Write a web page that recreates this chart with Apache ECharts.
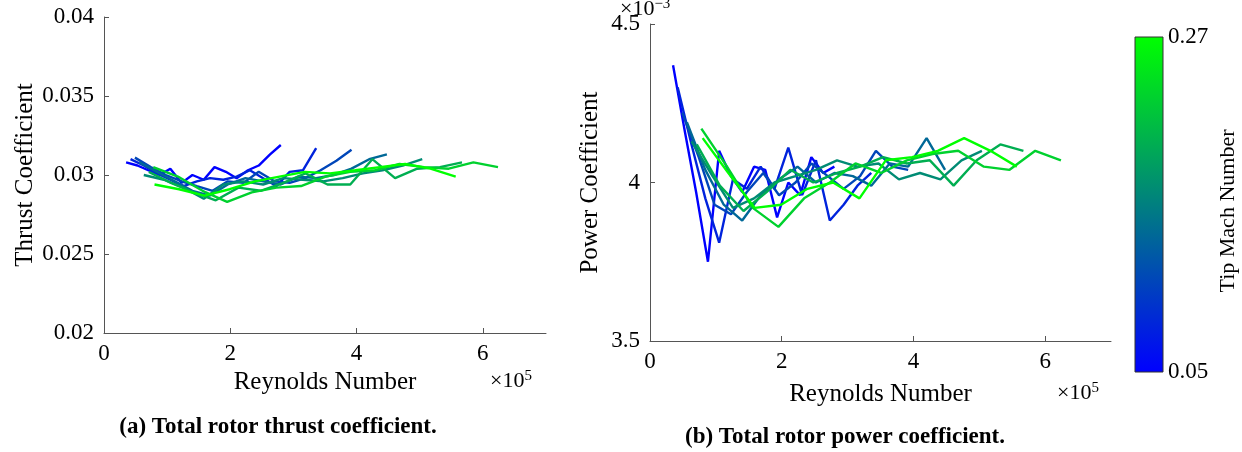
<!DOCTYPE html>
<html>
<head>
<meta charset="utf-8">
<script src="https://cdn.jsdelivr.net/npm/echarts@6/dist/echarts.min.js"></script>
<style>
  html, body { margin: 0; padding: 0; background: #fff; }
  #main { width: 1242px; height: 452px; }
</style>
</head>
<body>
<div id="main"></div>
<script>
// tip Mach number of each run (colour scale 0.05 .. 0.27)
const mach = [0.05, 0.08, 0.11, 0.14, 0.17, 0.20, 0.23, 0.27];

// Reynolds number (x 10^5) of each test point, one array per run
const re1 = [0.35, 0.53, 0.70, 0.88, 1.05, 1.23, 1.40, 1.58, 1.75, 1.93, 2.10, 2.28, 2.45, 2.63, 2.80];
const re2 = [0.42, 0.63, 0.84, 1.05, 1.26, 1.47, 1.68, 1.89, 2.10, 2.31, 2.52, 2.73, 2.94, 3.15, 3.36];
const re3 = [0.49, 0.74, 0.98, 1.23, 1.47, 1.72, 1.96, 2.21, 2.45, 2.70, 2.94, 3.19, 3.43, 3.68, 3.92];
const re4 = [0.56, 0.84, 1.12, 1.40, 1.68, 1.96, 2.24, 2.52, 2.80, 3.08, 3.36, 3.64, 3.92, 4.20, 4.48];
const re5 = [0.63, 0.95, 1.26, 1.58, 1.89, 2.21, 2.52, 2.84, 3.15, 3.47, 3.78, 4.10, 4.41, 4.73, 5.04];
const re6 = [0.71, 1.06, 1.42, 1.77, 2.13, 2.48, 2.84, 3.19, 3.54, 3.90, 4.25, 4.61, 4.96, 5.32, 5.67];
const re7 = [0.78, 1.17, 1.56, 1.95, 2.34, 2.73, 3.12, 3.51, 3.90, 4.29, 4.68, 5.07, 5.46, 5.85, 6.24];
const re8 = [0.80, 1.19, 1.59, 1.99, 2.39, 2.78, 3.18, 3.58, 3.98, 4.37, 4.77, 5.17, 5.57];

// thrust coefficient
const ct1 = [0.0308, 0.0306, 0.0303, 0.0300, 0.0304, 0.0295, 0.0300, 0.0297, 0.0305, 0.0302, 0.0298, 0.0303, 0.0306, 0.0313, 0.0319];
const ct2 = [0.0310, 0.0306, 0.0301, 0.0297, 0.0293, 0.0296, 0.0298, 0.0297, 0.0299, 0.0303, 0.0298, 0.0293, 0.0302, 0.0303, 0.0317];
const ct3 = [0.0311, 0.0305, 0.0300, 0.0296, 0.0293, 0.0290, 0.0296, 0.0295, 0.0302, 0.0296, 0.0295, 0.0298, 0.0303, 0.0309, 0.0316];
const ct4 = [0.0308, 0.0302, 0.0296, 0.0290, 0.0287, 0.0294, 0.0298, 0.0296, 0.0294, 0.0299, 0.0298, 0.0300, 0.0304, 0.0310, 0.0313];
const ct5 = [0.0300, 0.0297, 0.0292, 0.0285, 0.0294, 0.0296, 0.0294, 0.0298, 0.0297, 0.0296, 0.0298, 0.0301, 0.0303, 0.0306, 0.0310];
const ct6 = [0.0302, 0.0295, 0.0289, 0.0284, 0.0292, 0.0290, 0.0295, 0.0301, 0.0294, 0.0294, 0.0310, 0.0298, 0.0304, 0.0305, 0.0308];
const ct7 = [0.0305, 0.0299, 0.0290, 0.0283, 0.0289, 0.0292, 0.0293, 0.0299, 0.0302, 0.0303, 0.0307, 0.0305, 0.0304, 0.0308, 0.0305];
const ct8 = [0.0294, 0.0291, 0.0287, 0.0291, 0.0296, 0.0299, 0.0302, 0.0301, 0.0303, 0.0305, 0.0307, 0.0304, 0.0299];

// power coefficient (x 10^-3)
const cp1 = [4.37, 4.16, 3.97, 3.75, 4.10, 4.02, 3.97, 4.05, 4.04, 3.89, 4.00, 3.96, 4.08, 4.03, 4.05];
const cp2 = [4.30, 4.12, 3.95, 3.81, 4.01, 3.98, 4.05, 3.98, 4.11, 3.96, 4.07, 3.88, 3.93, 3.99, 4.03];
const cp3 = [4.22, 4.08, 3.93, 3.90, 3.97, 4.03, 3.96, 4.00, 4.06, 4.02, 3.98, 4.02, 4.10, 4.05, 4.04];
const cp4 = [4.19, 4.04, 3.93, 3.88, 3.96, 4.01, 4.05, 4.00, 4.03, 4.02, 3.99, 4.06, 4.05, 4.14, 4.04];
const cp5 = [4.13, 4.02, 3.92, 3.95, 4.00, 4.02, 4.04, 4.07, 4.05, 4.06, 4.01, 4.03, 4.01, 4.07, 4.10];
const cp6 = [4.12, 3.99, 3.91, 3.97, 4.04, 4.00, 4.03, 4.05, 4.08, 4.06, 4.07, 3.99, 4.07, 4.12, 4.10];
const cp7 = [4.17, 4.05, 3.92, 3.86, 3.95, 4.00, 4.06, 4.03, 4.07, 4.09, 4.10, 4.05, 4.04, 4.10, 4.07];
const cp8 = [4.14, 4.03, 3.92, 3.93, 3.98, 4.00, 3.95, 4.07, 4.08, 4.10, 4.14, 4.10, 4.05];

const reRuns = [re1, re2, re3, re4, re5, re6, re7, re8];
const ctRuns = [ct1, ct2, ct3, ct4, ct5, ct6, ct7, ct8];
const cpRuns = [cp1, cp2, cp3, cp4, cp5, cp6, cp7, cp8];

const xTicks = [0, 2, 4, 6];
const machMin = 0.05, machMax = 0.27;
const cmap = ['#0000ff', '#00ff00'];

const serif = 'Liberation Serif';
const txt = '#000';
const axisGray = '#555';

function machColor(m) {
  return echarts.color.lerp((m - machMin) / (machMax - machMin), cmap);
}

function pairs(xs, ys) {
  return xs.map(function (x, i) { return [x, ys[i]]; });
}

var dom = document.getElementById('main');
var myChart = echarts.init(dom, null, { renderer: 'canvas' });

var series = [];
for (let i = 0; i < mach.length; ++i) {
  let c = machColor(mach[i]);
  series.push({
    type: 'line', xAxisIndex: 0, yAxisIndex: 0,
    data: pairs(reRuns[i], ctRuns[i]),
    showSymbol: false, silent: true,
    lineStyle: { color: c, width: 2.4 }
  });
  series.push({
    type: 'line', xAxisIndex: 1, yAxisIndex: 1,
    data: pairs(reRuns[i], cpRuns[i]),
    showSymbol: false, silent: true,
    lineStyle: { color: c, width: 2.4 }
  });
}

function xAxisOpt(grid, gap) {
  return {
    type: 'value', gridIndex: grid, min: 0, max: 7, interval: 2,
    name: 'Reynolds Number', nameLocation: 'middle', nameGap: gap,
    nameTextStyle: { fontFamily: serif, fontSize: 25, color: txt },
    axisLine: { lineStyle: { color: axisGray, width: 1 } },
    axisTick: { inside: true, length: 5, lineStyle: { color: axisGray } },
    axisLabel: {
      fontFamily: serif, fontSize: 23, color: txt, margin: 9,
      showMaxLabel: false,
      formatter: function (v) { return xTicks.indexOf(v) >= 0 ? String(v) : ''; }
    },
    splitLine: { show: false }
  };
}

function yAxisOpt(grid, min, max, interval, name, gap) {
  return {
    type: 'value', gridIndex: grid, min: min, max: max, interval: interval,
    name: name, nameLocation: 'middle', nameGap: gap,
    nameTextStyle: { fontFamily: serif, fontSize: 25, color: txt },
    axisLine: { show: true, lineStyle: { color: axisGray, width: 1 } },
    axisTick: { show: true, inside: true, length: 5, lineStyle: { color: axisGray } },
    axisLabel: { fontFamily: serif, fontSize: 23, color: txt, margin: 10 },
    splitLine: { show: false }
  };
}

var option = {
  backgroundColor: '#fff',
  animation: false,
  grid: [
    { left: 104, top: 17, width: 442, height: 316 },
    { left: 650, top: 24, width: 461, height: 317 }
  ],
  xAxis: [xAxisOpt(0, 37), xAxisOpt(1, 41)],
  yAxis: [
    yAxisOpt(0, 0.02, 0.04, 0.005, 'Thrust Coefficient', 62),
    yAxisOpt(1, 3.5, 4.5, 0.5, 'Power Coefficient', 47)
  ],
  series: series,
  graphic: [
    // colour bar
    {
      type: 'rect', silent: true,
      shape: { x: 1135, y: 37, width: 28, height: 335 },
      style: {
        fill: new echarts.graphic.LinearGradient(0, 1, 0, 0, [
          { offset: 0, color: cmap[0] },
          { offset: 1, color: cmap[1] }
        ]),
        stroke: '#333', lineWidth: 1
      }
    },
    {
      type: 'text', left: 1168, top: 25,
      style: { text: String(machMax), font: '23px "Liberation Serif"', fill: txt }
    },
    {
      type: 'text', left: 1168, top: 360,
      style: { text: String(machMin), font: '23px "Liberation Serif"', fill: txt }
    },
    {
      type: 'text', x: 1228, y: 211, rotation: Math.PI / 2,
      style: {
        text: 'Tip Mach Number', font: '22px "Liberation Serif"', fill: txt,
        align: 'center', verticalAlign: 'middle'
      }
    },
    // exponent labels
    {
      type: 'text', left: 490, top: 369,
      style: {
        text: '×10{s|5}', font: '22px "Liberation Serif"', fill: txt,
        rich: { s: { fontSize: 15, verticalAlign: 'top', padding: [0, 0, 10, 0], fontFamily: serif } }
      }
    },
    {
      type: 'text', left: 1057, top: 381,
      style: {
        text: '×10{s|5}', font: '22px "Liberation Serif"', fill: txt,
        rich: { s: { fontSize: 15, verticalAlign: 'top', padding: [0, 0, 10, 0], fontFamily: serif } }
      }
    },
    {
      type: 'text', left: 620, top: -3,
      style: {
        text: '×10{s|−3}', font: '22px "Liberation Serif"', fill: txt,
        rich: { s: { fontSize: 15, verticalAlign: 'top', padding: [0, 0, 10, 0], fontFamily: serif } }
      }
    },
    // captions
    {
      type: 'text', x: 278, y: 427,
      style: {
        text: '(a) Total rotor thrust coefficient.', font: 'bold 23px "Liberation Serif"',
        fill: txt, align: 'center', verticalAlign: 'middle'
      }
    },
    {
      type: 'text', x: 845, y: 437,
      style: {
        text: '(b) Total rotor power coefficient.', font: 'bold 23px "Liberation Serif"',
        fill: txt, align: 'center', verticalAlign: 'middle'
      }
    }
  ]
};

myChart.setOption(option);
window.addEventListener('resize', myChart.resize);
</script>
</body>
</html>
